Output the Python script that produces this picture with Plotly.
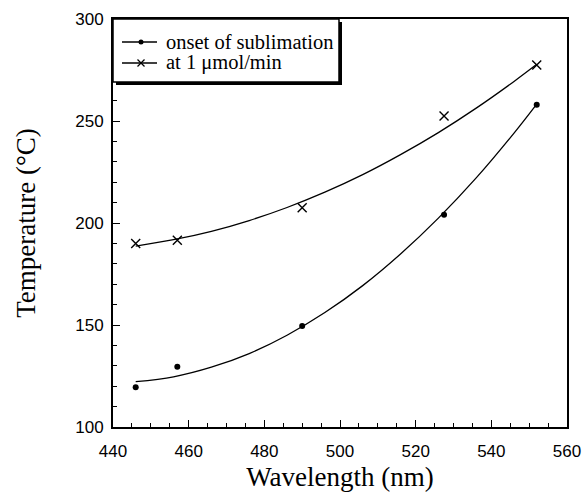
import plotly.graph_objects as go

# Measured points
wavelength = [446, 457, 490, 527.5, 552]
onset_temp = [119.5, 129.5, 149.5, 204, 258]
rate_temp = [190, 191.5, 207.5, 252.5, 277.5]

# Smooth fitted curves
curve_x = [446, 456, 466, 476, 486, 496, 506, 516, 526, 536, 546, 552]
onset_curve = [122.2, 124.6, 129.3, 136.0, 145.0, 156.1, 169.3, 184.8, 202.4, 222.1, 244.1, 258.3]
rate_curve = [188.7, 191.8, 195.9, 201.2, 207.6, 215.1, 223.7, 233.5, 244.3, 256.3, 269.4, 277.8]

series_names = ["onset of sublimation", "at 1 \u03bcmol/min"]

x_ticks = [440, 460, 480, 500, 520, 540, 560]
y_ticks = [100, 150, 200, 250, 300]

fig = go.Figure()

fig.add_trace(go.Scatter(x=curve_x, y=onset_curve, mode="lines", line=dict(color="black", width=1.3, shape="spline"),
                         showlegend=False, hoverinfo="skip"))
fig.add_trace(go.Scatter(x=curve_x, y=rate_curve, mode="lines", line=dict(color="black", width=1.3, shape="spline"),
                         showlegend=False, hoverinfo="skip"))
fig.add_trace(go.Scatter(x=wavelength, y=onset_temp, mode="markers", name=series_names[0],
                         marker=dict(symbol="circle", size=6, color="black"), showlegend=False))
fig.add_trace(go.Scatter(x=wavelength, y=rate_temp, mode="markers", name=series_names[1],
                         marker=dict(symbol="x-thin", size=9, line=dict(color="black", width=1.4)), showlegend=False))

W, H = 584, 497
ml, mr, mt, mb = 113, 17, 19, 70
pw, ph = W - ml - mr, H - mt - mb

def px_x(x):
    return (x - ml) / pw

def px_y(y):
    return (H - mb - y) / ph

# Legend box (with drop shadow) drawn as shapes
shapes = [
    dict(type="rect", xref="paper", yref="paper", x0=px_x(116), y0=px_y(85), x1=px_x(342), y1=px_y(22),
         fillcolor="black", line=dict(width=0), layer="above"),
    dict(type="rect", xref="paper", yref="paper", x0=px_x(113), y0=px_y(82), x1=px_x(339), y1=px_y(19),
         fillcolor="white", line=dict(color="black", width=1.5), layer="above"),
]
annotations = []
row_y = [42, 63]
for i, name in enumerate(series_names):
    yy = px_y(row_y[i])
    shapes.append(dict(type="line", xref="paper", yref="paper", x0=px_x(122), x1=px_x(157), y0=yy, y1=yy,
                       line=dict(color="black", width=1.3), layer="above"))
    annotations.append(dict(text=name, xref="paper", yref="paper", x=px_x(164), y=yy, xanchor="left",
                            yanchor="middle", showarrow=False,
                            font=dict(family="Liberation Serif", size=20.5, color="black")))
# legend symbols
shapes.append(dict(type="circle", xref="paper", yref="paper", x0=px_x(138.5), x1=px_x(143.5),
                   y0=px_y(row_y[0] + 2.5), y1=px_y(row_y[0] - 2.5), fillcolor="black",
                   line=dict(width=0), layer="above"))
for dx in (-1, 1):
    shapes.append(dict(type="line", xref="paper", yref="paper", x0=px_x(141 - 3.5), x1=px_x(141 + 3.5),
                       y0=px_y(row_y[1] - 3.5 * dx), y1=px_y(row_y[1] + 3.5 * dx),
                       line=dict(color="black", width=1.2), layer="above"))

fig.update_layout(
    width=W, height=H,
    margin=dict(l=ml, r=mr, t=mt, b=mb),
    paper_bgcolor="white", plot_bgcolor="white",
    font=dict(family="Liberation Serif", color="black"),
    showlegend=False,
    shapes=shapes,
    annotations=annotations,
    xaxis=dict(range=[440, 560], tickvals=x_ticks, ticks="inside", ticklen=7, tickwidth=1,
               tickcolor="black", showline=True, linecolor="black", linewidth=2, mirror=True,
               showgrid=False, zeroline=False, ticklabelstandoff=8, automargin=False,
               tickfont=dict(family="Liberation Sans", size=17),
               minor=dict(dtick=5, ticks="inside", ticklen=4, tickcolor="black", showgrid=False),
               title=dict(text="Wavelength (nm)", font=dict(family="Liberation Serif", size=27), standoff=7)),
    yaxis=dict(range=[100, 300], tickvals=y_ticks, ticks="inside", ticklen=7, tickwidth=1,
               tickcolor="black", showline=True, linecolor="black", linewidth=2, mirror=True,
               showgrid=False, zeroline=False, ticklabelstandoff=4, automargin=False,
               tickfont=dict(family="Liberation Sans", size=17),
               minor=dict(dtick=10, ticks="inside", ticklen=4, tickcolor="black", showgrid=False),
               title=dict(text="Temperature (\u00b0C)", font=dict(family="Liberation Serif", size=27), standoff=32)),
)

fig.write_html("out.html")
